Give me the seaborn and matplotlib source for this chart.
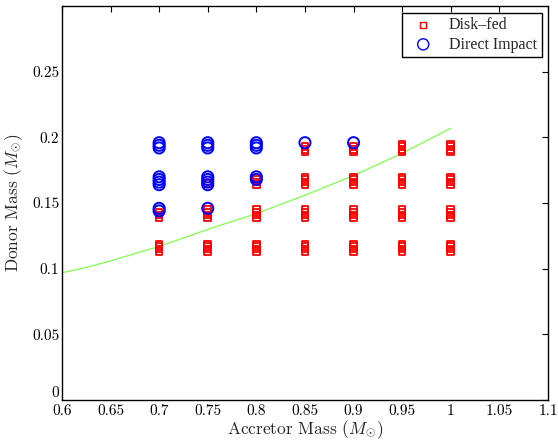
import numpy as np
import pandas as pd
import seaborn as sns
import matplotlib.pyplot as plt
from matplotlib.ticker import FuncFormatter

# Disk-fed systems: accretor mass -> list of donor masses
disk_fed = {
    0.70: [0.113, 0.115, 0.117, 0.119, 0.139, 0.141, 0.143],
    0.75: [0.113, 0.115, 0.117, 0.119, 0.139, 0.141, 0.143, 0.145, 0.165],
    0.80: [0.113, 0.115, 0.117, 0.119, 0.139, 0.141, 0.143, 0.145, 0.164, 0.166, 0.168],
    0.85: [0.113, 0.115, 0.117, 0.119, 0.139, 0.141, 0.143, 0.145,
           0.164, 0.166, 0.168, 0.170, 0.189, 0.191, 0.193],
    0.90: [0.113, 0.115, 0.117, 0.119, 0.139, 0.141, 0.143, 0.145,
           0.164, 0.166, 0.168, 0.170, 0.189, 0.191, 0.193],
    0.95: [0.113, 0.115, 0.117, 0.119, 0.139, 0.141, 0.143, 0.145,
           0.164, 0.166, 0.168, 0.170, 0.189, 0.191, 0.193, 0.195],
    1.00: [0.113, 0.115, 0.117, 0.119, 0.139, 0.141, 0.143, 0.145,
           0.164, 0.166, 0.168, 0.170, 0.189, 0.191, 0.193, 0.195],
}

# Direct impact systems
direct_impact = {
    0.70: [0.144, 0.146, 0.164, 0.166, 0.168, 0.170, 0.192, 0.194, 0.196],
    0.75: [0.146, 0.164, 0.166, 0.168, 0.170, 0.192, 0.194, 0.196],
    0.80: [0.168, 0.170, 0.192, 0.194, 0.196],
    0.85: [0.196],
    0.90: [0.196],
}

# boundary curve
curve_acc = [0.60, 0.62, 0.65, 0.70, 0.735, 0.75, 0.80, 0.85, 0.90, 0.95, 1.00]
curve_donor = [0.097, 0.100, 0.106, 0.117, 0.126, 0.130, 0.142, 0.156, 0.171, 0.188, 0.207]

x_ticks = [0.6, 0.65, 0.7, 0.75, 0.8, 0.85, 0.9, 0.95, 1.0, 1.05, 1.1]
y_ticks = [0, 0.05, 0.1, 0.15, 0.2, 0.25]


def to_frame(d):
    rows = [(a, m) for a, ms in d.items() for m in ms]
    return pd.DataFrame(rows, columns=["accretor", "donor"])


df_disk = to_frame(disk_fed)
df_imp = to_frame(direct_impact)

sns.set_theme(style="white")
plt.rcParams["font.family"] = ["cmr10", "DejaVu Serif"]
plt.rcParams["mathtext.fontset"] = "cm"
plt.rcParams["axes.formatter.use_mathtext"] = True
plt.rcParams["axes.edgecolor"] = "black"
plt.rcParams["axes.linewidth"] = 1.0

fig = plt.figure(figsize=(5.58, 4.41), dpi=100)
ax = fig.add_axes([0.111, 0.093, 0.871, 0.893])

sns.lineplot(x=curve_acc, y=curve_donor, color="#80ff50", linewidth=0.9, ax=ax)
sns.scatterplot(data=df_disk, x="accretor", y="donor", marker="s", s=22,
                facecolors="none", edgecolor="red", linewidth=1.3,
                label="Disk\u2013fed", ax=ax, zorder=3)
sns.scatterplot(data=df_imp, x="accretor", y="donor", marker="o", s=64,
                facecolors="none", edgecolor="blue", linewidth=1.4,
                label="Direct Impact", ax=ax, zorder=4)

ax.set_xlim(0.6, 1.1)
ax.set_ylim(0, 0.3)
ax.set_xticks(x_ticks)
ax.set_yticks(y_ticks)
fmt = FuncFormatter(lambda v, p: f"{v:g}")
ax.xaxis.set_major_formatter(fmt)
ax.yaxis.set_major_formatter(fmt)
ax.tick_params(direction="in", top=True, right=True, length=4, width=0.8,
               labelsize=11, colors="black")
ax.tick_params(axis="x", pad=3)
ax.tick_params(axis="y", pad=2)
ax.get_yticklabels()[0].set_va("bottom")
ax.set_xlabel(r"Accretor Mass ($M_{\odot}$)", fontsize=12.5, labelpad=0)
ax.set_ylabel(r"Donor Mass ($M_{\odot}$)", fontsize=12.5, labelpad=5)

leg = ax.legend(loc="upper right", prop={"family": "Liberation Serif", "size": 11.5},
                fancybox=False, framealpha=1, edgecolor="black",
                borderaxespad=0.4, handletextpad=0.6, borderpad=0.3,
                labelspacing=0.2)
leg.get_frame().set_linewidth(1.0)
for h in leg.legend_handles:
    h.set_linewidth(1.0)

fig.savefig("out.png", dpi=100)
